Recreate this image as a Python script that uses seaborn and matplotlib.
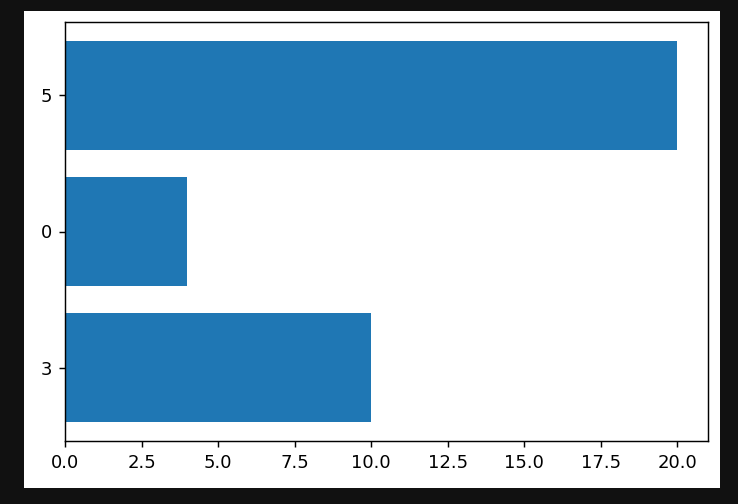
import matplotlib
matplotlib.use("Agg")
import matplotlib.pyplot as plt
from matplotlib.patches import Rectangle
import seaborn as sns

# bars listed top to bottom
labels = ["5", "0", "3"]
values = [20, 4, 10]

DPI = 130
W, H = 738, 504
fig = plt.figure(figsize=(W / DPI, H / DPI), dpi=DPI, facecolor="#111111")
# white notebook-output area on the dark page
fig.patches.append(Rectangle((24 / W, (H - 488) / H), (720 - 24) / W, (488 - 11) / H,
                             transform=fig.transFigure, facecolor="white",
                             edgecolor="none", zorder=-10))

ax = fig.add_axes([65 / W, (H - 441) / H, (708 - 65) / W, (441 - 22) / H])
sns.barplot(x=values, y=labels, order=labels, orient="h", color="#1f77b4",
            saturation=1, width=0.8, ax=ax)
ax.set_xlim(0, 21)
ax.set_ylim(2.54, -0.54)
ax.set_xlabel("")
ax.set_ylabel("")
ax.set_xticks([0, 2.5, 5, 7.5, 10, 12.5, 15, 17.5, 20])
ax.set_xticklabels(["0.0", "2.5", "5.0", "7.5", "10.0", "12.5", "15.0", "17.5", "20.0"])

fig.savefig("out.png", dpi=DPI, facecolor=fig.get_facecolor())
